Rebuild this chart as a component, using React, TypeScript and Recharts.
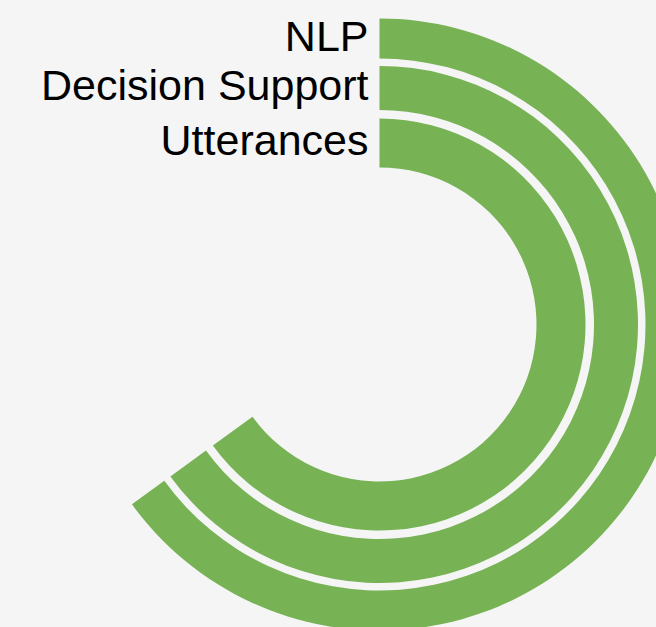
import React from 'react';
import { PieChart, Pie, Cell } from 'recharts';

// rings from outside to inside
const ringNames = ['NLP', 'Decision Support', 'Utterances'];
const ringValues = [65, 65, 65];
const scaleMax = 100;

const ringRadii = [
  { inner: 266, outer: 306 },
  { inner: 214.5, outer: 258.5 },
  { inner: 157, outer: 206 },
];

const GREEN = '#77b255';
const BG = '#f5f5f5';

const ringData = ringNames.map((name, i) => [
  { name, value: ringValues[i] },
  { name: 'rest', value: scaleMax - ringValues[i] },
]);

const renderLabel = (p: any) => {
  if (p.index !== 0) return null;
  const mid = (p.innerRadius + p.outerRadius) / 2;
  return (
    <text
      x={p.cx - 11}
      y={p.cy - mid}
      dy={12}
      textAnchor='end'
      fill='#000'
      fontSize={43}
      fontFamily='"Liberation Sans", Arial, Helvetica, sans-serif'
    >
      {p.name}
    </text>
  );
};

const App: React.FC = () => {
  return (
    <div style={{ position: 'absolute', left: 0, top: 0, width: 656, height: 627, background: BG }}>
      <PieChart width={656} height={627} margin={{ top: 0, right: 0, bottom: 0, left: 0 }}>
        {ringData.map((data, i) => (
          <Pie
            key={ringNames[i]}
            data={data}
            dataKey='value'
            nameKey='name'
            cx={379.5}
            cy={324.5}
            innerRadius={ringRadii[i].inner}
            outerRadius={ringRadii[i].outer}
            startAngle={90}
            endAngle={-270}
            stroke='none'
            label={renderLabel}
            labelLine={false}
            isAnimationActive={false}
          >
            <Cell fill={GREEN} />
            <Cell fill='transparent' />
          </Pie>
        ))}
      </PieChart>
    </div>
  );
};

export default App;
